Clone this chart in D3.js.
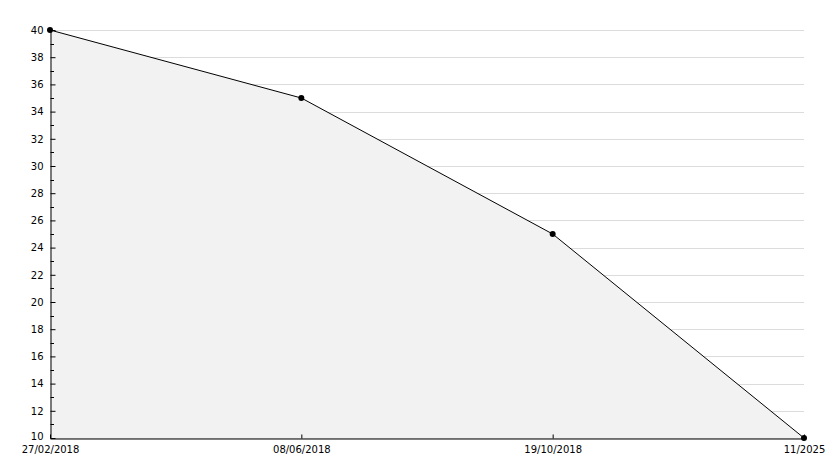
<!DOCTYPE html>
<meta charset="utf-8">
<style>
body { margin: 0; background: #fff; }
text { font-family: "DejaVu Sans", sans-serif; font-size: 10px; fill: #000; }
.grid line { stroke: #dcdcdc; }
</style>
<body>
<div id="chart"></div>
<script src="https://d3js.org/d3.v7.min.js"></script>
<script>
// data
var dates = ["27/02/2018", "08/06/2018", "19/10/2018", "11/2025"];
var values = [40, 35, 25, 10];
var yTicks = [10, 12, 14, 16, 18, 20, 22, 24, 26, 28, 30, 32, 34, 36, 38, 40];

var margin = {top: 30, right: 30, bottom: 30, left: 50},
    width = 834 - margin.left - margin.right,
    height = 468 - margin.top - margin.bottom;

var svg = d3.select("#chart").append("svg")
    .attr("width", 834)
    .attr("height", 468)
  .append("g")
    .attr("transform", "translate(" + margin.left + "," + margin.top + ")");

var x = d3.scalePoint().domain(dates).range([0, width]);
var y = d3.scaleLinear().domain([10, 40]).range([height, 0]);

var data = dates.map(function(d, i) { return {date: d, value: values[i]}; });

// grid lines
svg.append("g")
    .attr("class", "grid")
  .selectAll("line")
  .data(yTicks)
  .enter().append("line")
    .attr("x1", 0)
    .attr("x2", width)
    .attr("y1", function(d) { return Math.round(y(d)) + 0.5; })
    .attr("y2", function(d) { return Math.round(y(d)) + 0.5; });

// area under the line
var area = d3.area()
    .x(function(d) { return x(d.date); })
    .y0(height)
    .y1(function(d) { return y(d.value); });

svg.append("path")
    .datum(data)
    .attr("fill", "#f2f2f2")
    .attr("d", area);

var line = d3.line()
    .x(function(d) { return x(d.date); })
    .y(function(d) { return y(d.value); });

svg.append("path")
    .datum(data)
    .attr("fill", "none")
    .attr("stroke", "#000")
    .attr("stroke-width", 1)
    .attr("d", line);

// y axis, ticks point inward
var yAxis = svg.append("g")
    .attr("transform", "translate(0.5,0)")
    .call(d3.axisLeft(y).tickValues(yTicks).tickSize(-5).tickPadding(12).tickSizeOuter(0));
yAxis.select(".domain").attr("stroke", "#000");
yAxis.selectAll(".tick text").attr("x", -7);
// lowest label sits a bit higher so it clears the date below
yAxis.selectAll(".tick text").filter(function(d) { return d === 10; }).attr("dy", "0.1em");

// minor ticks
svg.append("g")
  .selectAll("line")
  .data(d3.range(11, 40, 2))
  .enter().append("line")
    .attr("x1", 0.5)
    .attr("x2", 4)
    .attr("y1", function(d) { return Math.round(y(d)) + 0.5; })
    .attr("y2", function(d) { return Math.round(y(d)) + 0.5; })
    .attr("stroke", "#000");

// x axis
var xAxis = svg.append("g")
    .attr("transform", "translate(0," + (height + 0.5) + ")")
    .call(d3.axisBottom(x).tickSize(-4).tickPadding(7).tickSizeOuter(0));
xAxis.select(".domain").attr("stroke", "#000");

// markers
svg.selectAll(".dot")
  .data(data)
  .enter().append("circle")
    .attr("class", "dot")
    .attr("cx", function(d) { return x(d.date); })
    .attr("cy", function(d) { return y(d.value); })
    .attr("r", 3)
    .attr("fill", "#000");
</script>
</body>
